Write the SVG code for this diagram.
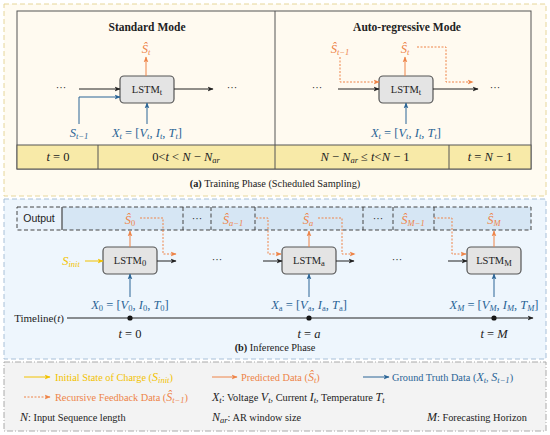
<svg xmlns="http://www.w3.org/2000/svg" width="550" height="435" viewBox="0 0 550 435">
<style>
text{font-family:"Liberation Serif","DejaVu Serif",serif;fill:#222}
.t{font-size:11.5px;font-weight:bold;text-anchor:middle}
.m{font-size:12.5px;font-style:italic;text-anchor:middle}
.r{font-style:normal}
.s{font-size:8.5px}
.o{fill:#ee8448}
.b{fill:#2a6496}
.y{fill:#f2c200}
.lab{font-size:10.5px;text-anchor:middle}
.lg{font-size:10.3px}
.li{font-style:italic;font-size:12px}
.cap{font-size:10.3px;text-anchor:middle}
.box{fill:#e4e4e4;stroke:#555;stroke-width:1.2}
.lk{stroke:#222;stroke-width:1;fill:none}
.lo{stroke:#ee8448;stroke-width:1;fill:none}
.ld{stroke:#ee8448;stroke-width:1;fill:none;stroke-dasharray:2,1.5}
.lb{stroke:#2a6496;stroke-width:1;fill:none}
.ly{stroke:#f2c200;stroke-width:1;fill:none}
.dv{stroke:#444;stroke-width:1;stroke-dasharray:4,2.5;fill:none}
</style>
<defs>
<marker id="ak" viewBox="0 0 10 10" refX="9" refY="5" markerWidth="6" markerHeight="6" markerUnits="userSpaceOnUse" orient="auto"><path d="M0,1 L10,5 L0,9 L2.5,5 z" fill="#222"/></marker>
<marker id="ao" viewBox="0 0 10 10" refX="9" refY="5" markerWidth="6" markerHeight="6" markerUnits="userSpaceOnUse" orient="auto"><path d="M0,1 L10,5 L0,9 L2.5,5 z" fill="#ee8448"/></marker>
<marker id="ab" viewBox="0 0 10 10" refX="9" refY="5" markerWidth="6" markerHeight="6" markerUnits="userSpaceOnUse" orient="auto"><path d="M0,1 L10,5 L0,9 L2.5,5 z" fill="#2a6496"/></marker>
<marker id="ay" viewBox="0 0 10 10" refX="9" refY="5" markerWidth="6" markerHeight="6" markerUnits="userSpaceOnUse" orient="auto"><path d="M0,1 L10,5 L0,9 L2.5,5 z" fill="#f2c200"/></marker>
</defs>

<!-- Panel (a) -->
<g id="panel-a">
<rect x="4" y="4" width="542" height="192" fill="#fffbf1" stroke="#e6d69a" stroke-dasharray="5,3"/>
<rect x="17" y="11" width="514" height="158" fill="#fffaf0" stroke="#555"/>
<rect x="17" y="145" width="514" height="24" fill="#f8eaa8" stroke="#555"/>
<line x1="275" y1="11" x2="275" y2="169" stroke="#555"/>
<line x1="98" y1="145" x2="98" y2="169" stroke="#555"/>
<line x1="449" y1="145" x2="449" y2="169" stroke="#555"/>
<text class="t" x="147" y="31">Standard Mode</text>
<text class="t" x="407" y="31">Auto-regressive Mode</text>
<text class="m" x="58" y="161">t <tspan class="r">= 0</tspan></text>
<text class="m" x="186" y="161"><tspan class="r">0&lt;</tspan>t <tspan class="r">&lt;</tspan> N <tspan class="r">−</tspan> N<tspan class="s" dy="2">ar</tspan></text>
<text class="m" x="365" y="161">N <tspan class="r">−</tspan> N<tspan class="s" dy="2">ar</tspan><tspan dy="-2"> <tspan class="r">≤</tspan> t<tspan class="r">&lt;</tspan>N <tspan class="r">− 1</tspan></tspan></text>
<text class="m" x="490" y="161">t <tspan class="r">=</tspan> N <tspan class="r">− 1</tspan></text>
<text class="cap" x="275" y="187"><tspan font-weight="bold">(a)</tspan> Training Phase (Scheduled Sampling)</text>
</g>

<g id="node-std-lstm">
<rect class="box" x="120" y="76" width="54" height="27" rx="4"/>
<text class="lab" x="147" y="93">LSTM<tspan class="s" dy="2">t</tspan></text>
</g>
<g id="node-ar-lstm">
<rect class="box" x="379" y="76" width="54" height="27" rx="4"/>
<text class="lab" x="406" y="93">LSTM<tspan class="s" dy="2">t</tspan></text>
</g>

<g id="labels-a">
<text class="m o" x="146" y="53">Ŝ<tspan class="s" dy="2">t</tspan></text>
<text class="m b" x="79" y="137">S<tspan class="s" dy="2">t−1</tspan></text>
<text class="m b" x="147" y="137">X<tspan class="s" dy="2">t</tspan><tspan dy="-2"> <tspan class="r">= [</tspan>V</tspan><tspan class="s" dy="2">t</tspan><tspan dy="-2" class="r">, </tspan>I<tspan class="s" dy="2">t</tspan><tspan dy="-2" class="r">, </tspan>T<tspan class="s" dy="2">t</tspan><tspan dy="-2" class="r">]</tspan></text>
<text class="lab" x="61" y="91">···</text>
<text class="lab" x="232" y="91">···</text>
<text class="m o" x="340" y="53">Ŝ<tspan class="s" dy="2">t−1</tspan></text>
<text class="m o" x="405" y="53">Ŝ<tspan class="s" dy="2">t</tspan></text>
<text class="m b" x="406" y="137">X<tspan class="s" dy="2">t</tspan><tspan dy="-2"> <tspan class="r">= [</tspan>V</tspan><tspan class="s" dy="2">t</tspan><tspan dy="-2" class="r">, </tspan>I<tspan class="s" dy="2">t</tspan><tspan dy="-2" class="r">, </tspan>T<tspan class="s" dy="2">t</tspan><tspan dy="-2" class="r">]</tspan></text>
<text class="lab" x="317" y="91">···</text>
<text class="lab" x="495" y="91">···</text>
</g>

<!-- Panel (b) -->
<g id="panel-b">
<rect x="4" y="199" width="542" height="160" fill="#eef6fd" stroke="#a8c0d8" stroke-dasharray="5,3"/>
<rect x="17" y="207" width="45" height="23" fill="#e9f2fb"/>
<rect x="62" y="207" width="469" height="23" fill="#d6e6f4"/>
<rect class="dv" x="17" y="207" width="514" height="23"/>
<line x1="62" y1="207" x2="62" y2="230" stroke="#444" stroke-width="1.2"/>
<line class="dv" x1="183" y1="207" x2="183" y2="230"/>
<line class="dv" x1="211" y1="207" x2="211" y2="230"/>
<line class="dv" x1="255" y1="207" x2="255" y2="230"/>
<line class="dv" x1="363" y1="207" x2="363" y2="230"/>
<line class="dv" x1="393" y1="207" x2="393" y2="230"/>
<line class="dv" x1="434" y1="207" x2="434" y2="230"/>
<text x="39" y="222" font-size="10.5" text-anchor="middle" style="font-family:'Liberation Sans',sans-serif">Output</text>
<text class="m o" x="130" y="224">Ŝ<tspan class="s r" dy="2">0</tspan></text>
<text class="lab" x="197" y="222">···</text>
<text class="m o" x="233" y="224">Ŝ<tspan class="s" dy="2">a−1</tspan></text>
<text class="m o" x="308" y="224">Ŝ<tspan class="s" dy="2">a</tspan></text>
<text class="lab" x="378" y="222">···</text>
<text class="m o" x="413" y="224">Ŝ<tspan class="s" dy="2">M−1</tspan></text>
<text class="m o" x="494" y="224">Ŝ<tspan class="s" dy="2">M</tspan></text>
<text class="m y" x="71" y="265">S<tspan class="s" dy="2">init</tspan></text>
<text class="lab" x="217" y="263">···</text>
<text class="lab" x="397" y="263">···</text>
<text class="m b" x="130" y="309">X<tspan class="s r" dy="2">0</tspan><tspan dy="-2"> <tspan class="r">= [</tspan>V</tspan><tspan class="s r" dy="2">0</tspan><tspan dy="-2" class="r">, </tspan>I<tspan class="s r" dy="2">0</tspan><tspan dy="-2" class="r">, </tspan>T<tspan class="s r" dy="2">0</tspan><tspan dy="-2" class="r">]</tspan></text>
<text class="m b" x="309" y="309">X<tspan class="s r" dy="2">a</tspan><tspan dy="-2"> <tspan class="r">= [</tspan>V</tspan><tspan class="s r" dy="2">a</tspan><tspan dy="-2" class="r">, </tspan>I<tspan class="s r" dy="2">a</tspan><tspan dy="-2" class="r">, </tspan>T<tspan class="s r" dy="2">a</tspan><tspan dy="-2" class="r">]</tspan></text>
<text class="m b" x="494" y="309">X<tspan class="s" dy="2">M</tspan><tspan dy="-2"> <tspan class="r">= [</tspan>V</tspan><tspan class="s" dy="2">M</tspan><tspan dy="-2" class="r">, </tspan>I<tspan class="s" dy="2">M</tspan><tspan dy="-2" class="r">, </tspan>T<tspan class="s" dy="2">M</tspan><tspan dy="-2" class="r">]</tspan></text>
<text x="39" y="322" font-size="11" text-anchor="middle">Timeline(<tspan font-style="italic">t</tspan>)</text>
<circle cx="130" cy="318" r="2.6" fill="#111"/>
<circle cx="309" cy="318" r="2.6" fill="#111"/>
<circle cx="494" cy="318" r="2.6" fill="#111"/>
<text class="m" x="130" y="338">t <tspan class="r">= 0</tspan></text>
<text class="m" x="309" y="338">t <tspan class="r">=</tspan> a</text>
<text class="m" x="494" y="338">t <tspan class="r">=</tspan> M</text>
<text class="cap" x="275" y="351"><tspan font-weight="bold">(b)</tspan> Inference Phase</text>
</g>

<g id="node-lstm-0">
<rect class="box" x="103" y="247" width="54" height="27" rx="4"/>
<text class="lab" x="130" y="264">LSTM<tspan class="s" dy="2">0</tspan></text>
</g>
<g id="node-lstm-a">
<rect class="box" x="282" y="247" width="54" height="27" rx="4"/>
<text class="lab" x="309" y="264">LSTM<tspan class="s" dy="2">a</tspan></text>
</g>
<g id="node-lstm-M">
<rect class="box" x="467" y="247" width="54" height="27" rx="4"/>
<text class="lab" x="494" y="264">LSTM<tspan class="s" dy="2">M</tspan></text>
</g>

<g id="connectors">
<line class="lo" x1="146" y1="76" x2="146" y2="57" marker-end="url(#ao)"/>
<line class="lk" x1="79" y1="89" x2="120" y2="89" marker-end="url(#ak)"/>
<line class="lk" x1="174" y1="89" x2="213" y2="89" marker-end="url(#ak)"/>
<path class="lb" d="M79,124 V97 H120" marker-end="url(#ab)"/>
<line class="lb" x1="147" y1="124" x2="147" y2="103" marker-end="url(#ab)"/>
<path class="ld" d="M340,57 V82 H379" marker-end="url(#ao)"/>
<line class="lo" x1="405" y1="76" x2="405" y2="57" marker-end="url(#ao)"/>
<path class="ld" d="M417,47 H446 V82 H473" marker-end="url(#ao)"/>
<line class="lk" x1="338" y1="89" x2="379" y2="89" marker-end="url(#ak)"/>
<line class="lk" x1="433" y1="89" x2="478" y2="89" marker-end="url(#ak)"/>
<line class="lb" x1="406" y1="124" x2="406" y2="103" marker-end="url(#ab)"/>
<line class="ly" x1="85" y1="261" x2="103" y2="261" marker-end="url(#ay)"/>
<line class="lo" x1="130" y1="247" x2="130" y2="231" marker-end="url(#ao)"/>
<line class="lo" x1="309" y1="247" x2="309" y2="231" marker-end="url(#ao)"/>
<line class="lo" x1="494" y1="247" x2="494" y2="231" marker-end="url(#ao)"/>
<path class="ld" d="M140,218 H163 V254 H176" marker-end="url(#ao)"/>
<path class="ld" d="M256,218 H268 V254 H281" marker-end="url(#ao)"/>
<path class="ld" d="M318,218 H342 V254 H355" marker-end="url(#ao)"/>
<path class="ld" d="M434,218 H452 V254 H466" marker-end="url(#ao)"/>
<line class="lk" x1="157" y1="261" x2="176" y2="261" marker-end="url(#ak)"/>
<line class="lk" x1="263" y1="261" x2="282" y2="261" marker-end="url(#ak)"/>
<line class="lk" x1="336" y1="261" x2="354" y2="261" marker-end="url(#ak)"/>
<line class="lk" x1="448" y1="261" x2="467" y2="261" marker-end="url(#ak)"/>
<line class="lb" x1="130" y1="297" x2="130" y2="274" marker-end="url(#ab)"/>
<line class="lb" x1="309" y1="297" x2="309" y2="274" marker-end="url(#ab)"/>
<line class="lb" x1="494" y1="297" x2="494" y2="274" marker-end="url(#ab)"/>
<line class="lk" x1="67" y1="318" x2="533" y2="318" marker-end="url(#ak)"/>
</g>

<g id="legend">
<rect x="4" y="362" width="542" height="69" fill="#f3f3f3" stroke="#aaa" stroke-dasharray="6,2,1,2"/>
<line class="ly" x1="24" y1="377" x2="50" y2="377" marker-end="url(#ay)"/>
<text class="lg y" x="55" y="381">Initial State of Charge (<tspan class="li">S</tspan><tspan class="s" dy="2" font-style="italic">init</tspan><tspan dy="-2">)</tspan></text>
<line class="lo" x1="212" y1="377" x2="237" y2="377" marker-end="url(#ao)"/>
<text class="lg o" x="241" y="381">Predicted Data (<tspan class="li">Ŝ</tspan><tspan class="s" dy="2" font-style="italic">t</tspan><tspan dy="-2">)</tspan></text>
<line class="lb" x1="363" y1="377" x2="389" y2="377" marker-end="url(#ab)"/>
<text class="lg b" x="392" y="381">Ground Truth Data (<tspan class="li">X</tspan><tspan class="s" dy="2" font-style="italic">t</tspan><tspan dy="-2">, </tspan><tspan class="li">S</tspan><tspan class="s" dy="2" font-style="italic">t−1</tspan><tspan dy="-2">)</tspan></text>
<line class="ld" x1="24" y1="397" x2="50" y2="397" marker-end="url(#ao)"/>
<text class="lg o" x="55" y="401">Recursive Feedback Data (<tspan class="li">Ŝ</tspan><tspan class="s" dy="2" font-style="italic">t−1</tspan><tspan dy="-2">)</tspan></text>
<text class="lg" x="212" y="401"><tspan class="li">X</tspan><tspan class="s" dy="2" font-style="italic">t</tspan><tspan dy="-2">: Voltage </tspan><tspan class="li">V</tspan><tspan class="s" dy="2" font-style="italic">t</tspan><tspan dy="-2">, Current </tspan><tspan class="li">I</tspan><tspan class="s" dy="2" font-style="italic">t</tspan><tspan dy="-2">, Temperature </tspan><tspan class="li">T</tspan><tspan class="s" dy="2" font-style="italic">t</tspan></text>
<text class="lg" x="20" y="421"><tspan class="li">N</tspan>: Input Sequence length</text>
<text class="lg" x="212" y="421"><tspan class="li">N</tspan><tspan class="s" dy="2" font-style="italic">ar</tspan><tspan dy="-2">: AR window size</tspan></text>
<text class="lg" x="427" y="421"><tspan class="li">M</tspan>: Forecasting Horizon</text>
</g>
</svg>
